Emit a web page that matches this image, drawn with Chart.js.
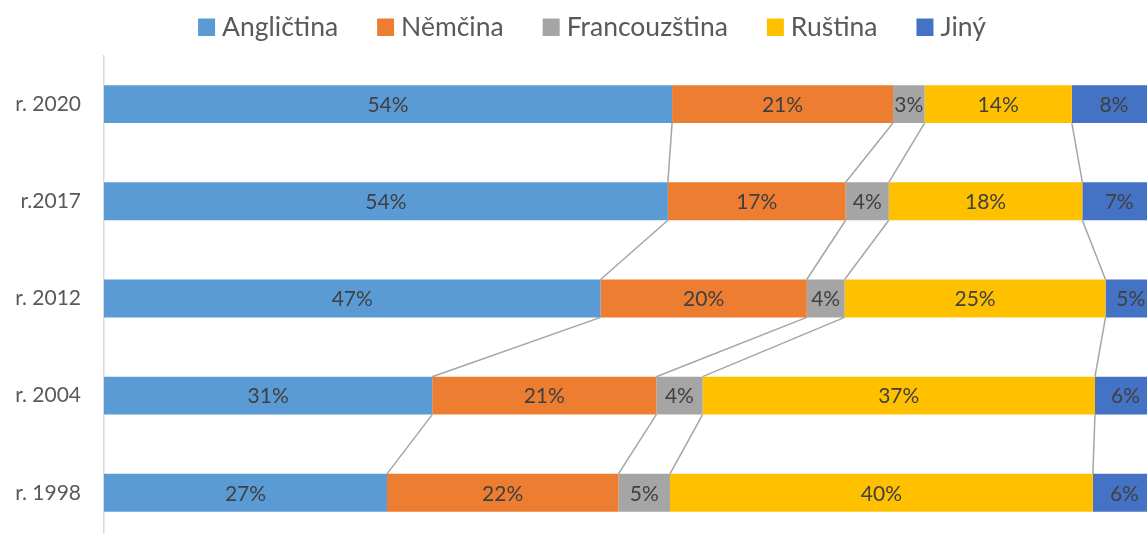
<!DOCTYPE html>
<html>
<head>
<meta charset="utf-8">
<script src="https://cdn.jsdelivr.net/npm/chart.js@4.4.0/dist/chart.umd.min.js"></script>
<style>
  html, body { margin: 0; padding: 0; background: #fff; overflow: hidden; }
  #wrap { width: 1160px; height: 577px; }
  canvas { display: block; }
</style>
</head>
<body>
<div id="wrap"><canvas id="langChart" width="1160" height="577" style="width:1160px;height:577px"></canvas></div>
<script>
// categories (top to bottom) and series, in percent
const years = ['r. 2020', 'r.2017', 'r. 2012', 'r. 2004', 'r. 1998'];
const languages = ['Angličtina', 'Němčina', 'Francouzština', 'Ruština', 'Jiný'];
const anglictina = [54.0, 53.6, 47.2, 31.2, 26.9];
const nemcina = [21.0, 16.9, 19.6, 21.3, 22.0];
const francouzstina = [3.0, 4.1, 3.6, 4.4, 4.9];
const rustina = [14.0, 18.4, 24.8, 37.3, 40.2];
const jiny = [8.0, 7.0, 4.8, 5.8, 6.0];
const colors = ['#5B9BD5', '#ED7D31', '#A5A5A5', '#FFC000', '#4472C4'];

const series = [anglictina, nemcina, francouzstina, rustina, jiny];
const FONT = 'Lato, "Open Sans", sans-serif';

// grey connector lines between the segment ends of neighbouring bars (excel "series lines")
const seriesLines = {
    id: 'seriesLines',
    beforeDatasetsDraw(chart) {
        const ctx = chart.ctx;
        ctx.save();
        ctx.strokeStyle = '#A5A5A5';
        ctx.lineWidth = 1.5;
        chart.data.datasets.forEach((ds, i) => {
            const bars = chart.getDatasetMeta(i).data;
            for (let j = 0; j < bars.length - 1; j++) {
                const a = bars[j], b = bars[j + 1];
                ctx.beginPath();
                ctx.moveTo(a.x, a.y + a.height / 2);
                ctx.lineTo(b.x, b.y - b.height / 2);
                ctx.stroke();
            }
        });
        ctx.restore();
    }
};

// percent labels in the middle of each segment
const barLabels = {
    id: 'barLabels',
    afterDatasetsDraw(chart) {
        const ctx = chart.ctx;
        ctx.save();
        ctx.font = '21px ' + FONT;
        ctx.fillStyle = '#404040';
        ctx.textAlign = 'center';
        ctx.textBaseline = 'middle';
        chart.data.datasets.forEach((ds, i) => {
            chart.getDatasetMeta(i).data.forEach((bar, j) => {
                const c = bar.getCenterPoint();
                ctx.fillText(Math.round(ds.data[j]) + '%', c.x, c.y + 1);
            });
        });
        ctx.restore();
    }
};

// legend on top, drawn by hand so the spacing matches
const topLegend = {
    id: 'topLegend',
    afterDraw(chart) {
        const ctx = chart.ctx;
        ctx.save();
        ctx.font = '26.5px ' + FONT;
        const box = 17, gapText = 7, gapItem = 39;
        const widths = chart.data.datasets.map(ds => ctx.measureText(ds.label).width);
        let total = 0;
        widths.forEach((w, i) => { total += box + gapText + w + (i < widths.length - 1 ? gapItem : 0); });
        let x = 592 - total / 2;
        ctx.textBaseline = 'alphabetic';
        ctx.textAlign = 'left';
        chart.data.datasets.forEach((ds, i) => {
            ctx.fillStyle = ds.backgroundColor;
            ctx.fillRect(x, 18.5, box, 17.5);
            ctx.fillStyle = '#595959';
            ctx.fillText(ds.label, x + box + gapText, 36);
            x += box + gapText + widths[i] + gapItem;
        });
        ctx.restore();
    }
};

const datasets = series.map((values, i) => ({
    label: languages[i],
    data: values,
    backgroundColor: colors[i],
    borderWidth: 0,
    barPercentage: 0.39,
    categoryPercentage: 1
}));

const ctx = document.getElementById('langChart');
const langChart = new Chart(ctx, {
    type: 'bar',
    data: { labels: years, datasets: datasets },
    options: {
        indexAxis: 'y',
        responsive: false,
        maintainAspectRatio: false,
        animation: false,
        layout: { padding: { top: 55.5, right: 4, left: 0, bottom: 0 } },
        scales: {
            x: { stacked: true, min: 0, max: 100, display: false },
            y: {
                stacked: true,
                grid: { display: false, drawTicks: false },
                border: { display: true, color: '#D9D9D9', width: 1.5 },
                ticks: { color: '#595959', font: { family: FONT, size: 21 }, padding: 23 },
                afterFit(scale) { scale.width = 104; }
            }
        },
        plugins: {
            legend: { display: false },
            tooltip: { enabled: false }
        }
    },
    plugins: [seriesLines, barLabels, topLegend]
});
</script>
</body>
</html>
